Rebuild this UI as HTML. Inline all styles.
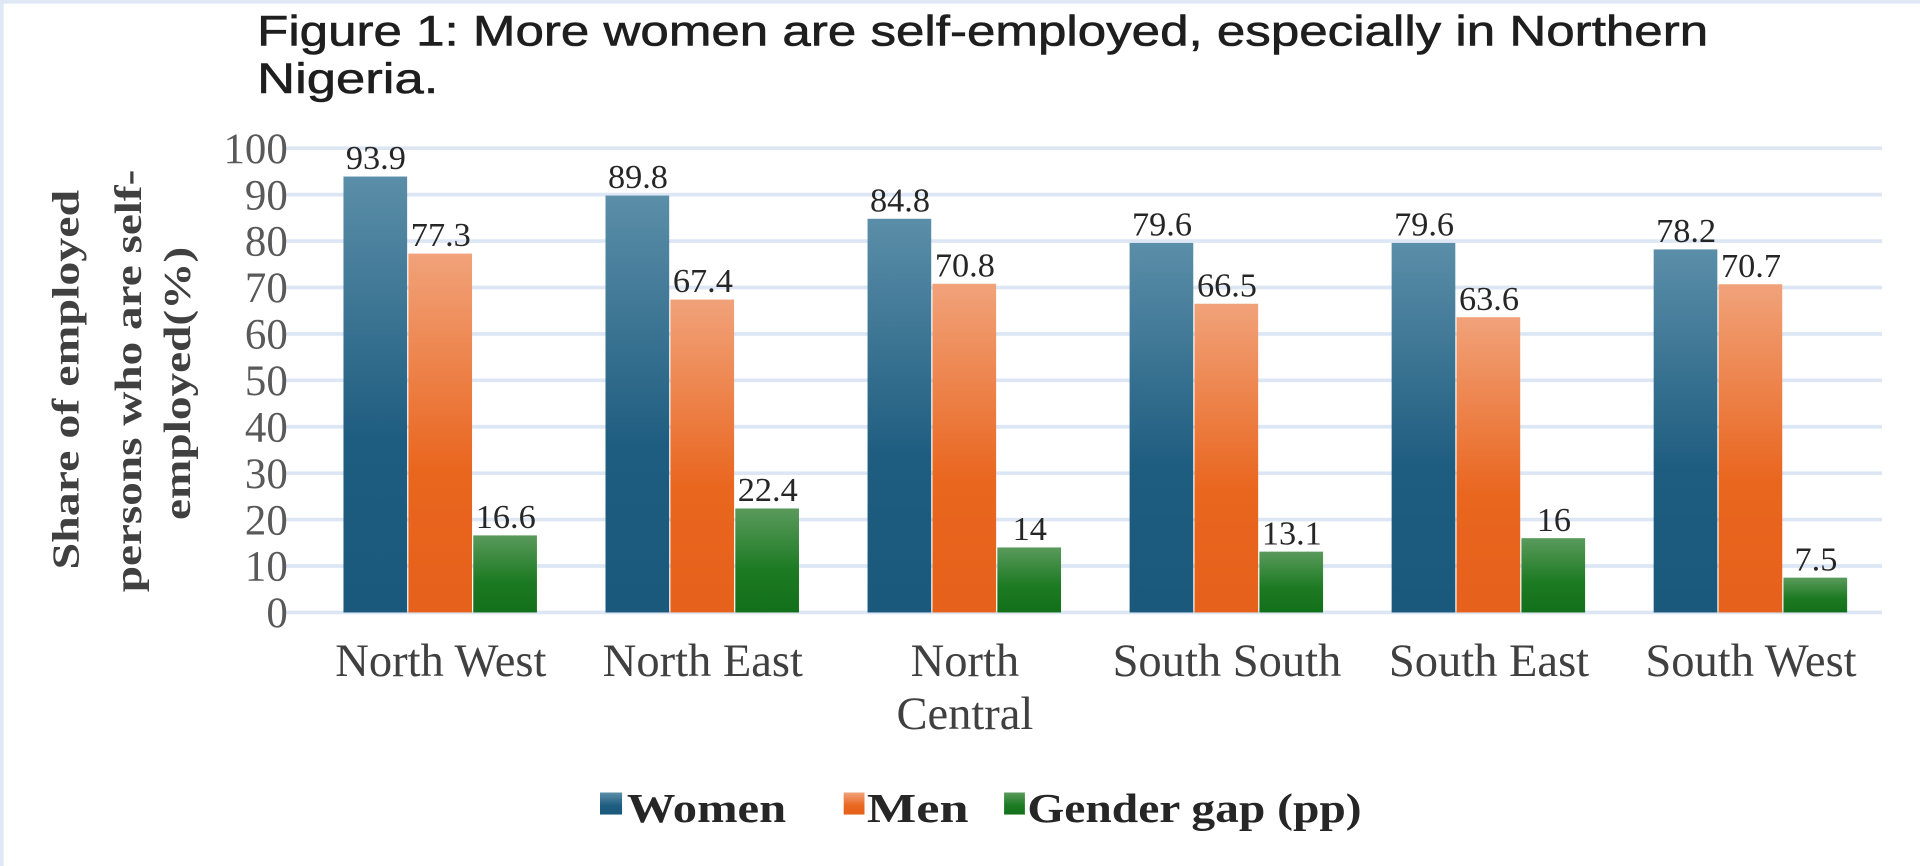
<!DOCTYPE html>
<html><head><meta charset="utf-8"><style>
html,body{margin:0;padding:0;background:#fff;}
svg{display:block;}
</style></head><body>
<svg id="chart" width="1920" height="866" viewBox="0 0 1568 707" preserveAspectRatio="none" xmlns="http://www.w3.org/2000/svg">
<defs>
<linearGradient id="gW" x1="0" y1="0" x2="0" y2="1"><stop offset="0" stop-color="#5b8ea8"/><stop offset="0.6" stop-color="#1f5d80"/><stop offset="1" stop-color="#1a587c"/></linearGradient>
<linearGradient id="gM" x1="0" y1="0" x2="0" y2="1"><stop offset="0" stop-color="#f1a27a"/><stop offset="0.6" stop-color="#e9661f"/><stop offset="1" stop-color="#e6611b"/></linearGradient>
<linearGradient id="gG" x1="0" y1="0" x2="0" y2="1"><stop offset="0" stop-color="#5a9a5c"/><stop offset="0.6" stop-color="#1c7a22"/><stop offset="1" stop-color="#13701a"/></linearGradient>
</defs>
<rect x="0" y="0" width="1568" height="707" fill="#fff"/>
<rect x="0" y="0" width="1568" height="3" fill="#dfe8f5"/>
<rect x="0" y="0" width="3" height="707" fill="#dfe8f5"/>
<text x="210" y="37" font-family="Liberation Sans, sans-serif" font-size="35" fill="#1e1e1e" stroke="#1e1e1e" stroke-width="0.5" textLength="1185" lengthAdjust="spacingAndGlyphs">Figure 1: More women are self-employed, especially in Northern</text>
<text x="210" y="76" font-family="Liberation Sans, sans-serif" font-size="35" fill="#1e1e1e" stroke="#1e1e1e" stroke-width="0.5" textLength="148" lengthAdjust="spacingAndGlyphs">Nigeria.</text>
<g font-family="Liberation Serif, serif" font-weight="bold" font-size="31" fill="#404040" text-anchor="middle">
<text transform="translate(64,310) rotate(-90)" textLength="310" lengthAdjust="spacingAndGlyphs">Share of employed</text>
<text transform="translate(115,311) rotate(-90)" textLength="345" lengthAdjust="spacingAndGlyphs">persons who are self-</text>
<text transform="translate(155,313) rotate(-90)" textLength="223" lengthAdjust="spacingAndGlyphs">employed(%)</text>
</g>
<g id="grid"></g><g id="bars"></g><g id="labels"></g><g id="xlabels"></g>
<g font-family="Liberation Serif, serif" font-weight="bold" font-size="34" fill="#262626">
<g><rect x="490" y="647" width="18" height="18" fill="url(#gW)"/><text x="512" y="671" textLength="130" lengthAdjust="spacingAndGlyphs">Women</text></g>
<g><rect x="689" y="647" width="17" height="18" fill="url(#gM)"/><text x="708" y="671" textLength="83" lengthAdjust="spacingAndGlyphs">Men</text></g>
<g><rect x="820" y="647" width="17" height="18" fill="url(#gG)"/><text x="839" y="671" textLength="273" lengthAdjust="spacingAndGlyphs">Gender gap (pp)</text></g>
</g>
</svg>
<script>
const categories = [["North West"],["North East"],["North","Central"],["South South"],["South East"],["South West"]];
const women = [93.9, 89.8, 84.8, 79.6, 79.6, 78.2];
const men = [77.3, 67.4, 70.8, 66.5, 63.6, 70.7];
const gap = [16.6, 22.4, 14, 13.1, 16, 7.5];
const yTicks = [0,10,20,30,40,50,60,70,80,90,100];

const NS = "http://www.w3.org/2000/svg";
const x0 = 253, x1 = 1537, y0 = 500, y100 = 121;
const band = (x1 - x0) / categories.length;
const barW = 53;
const yS = v => y0 - (y0 - y100) * v / 100;
const xC = i => x0 + band * (i + 0.5);
function mk(tag, attrs, parent, txt) {
  const e = document.createElementNS(NS, tag);
  for (const k in attrs) e.setAttribute(k, attrs[k]);
  if (txt !== undefined) e.textContent = txt;
  parent.appendChild(e); return e;
}
const grid = document.getElementById('grid');
yTicks.forEach(t => {
  const l = mk('line', {x1: 232, x2: x1, y1: yS(t), y2: yS(t), stroke: '#dce6f4', 'stroke-width': 3}, grid);
  
  
  const tx = mk('text', {x: 235, y: yS(t) + 12, 'text-anchor': 'end', 'font-family': 'Liberation Serif, serif', 'font-size': 35, fill: '#595959'}, grid, t);
  
  
});
const series = [[women, 'url(#gW)', 'women'], [men, 'url(#gM)', 'men'], [gap, 'url(#gG)', 'gap']];
const bars = document.getElementById('bars'), labels = document.getElementById('labels');
categories.forEach((c, i) => {
  series.forEach(([vals, fill, nm], s) => {
    const x = xC(i) - 1.5 * barW + s * barW;
    const r = mk('rect', {x: x, y: yS(vals[i]), width: barW - 1, height: y0 - yS(vals[i]), fill: fill}, bars);
    
    
    const t = mk('text', {x: x + barW / 2, y: yS(vals[i]) - 6, 'text-anchor': 'middle', 'font-family': 'Liberation Serif, serif', 'font-size': 28, fill: '#262626'}, labels, vals[i]);
    
    
  });
  c.forEach((line, k) => {
    const t = mk('text', {x: xC(i), y: 552 + k * 43, 'text-anchor': 'middle', 'font-family': 'Liberation Serif, serif', 'font-size': 38, fill: '#404040'}, document.getElementById('xlabels'), line);
    
    
  });
});
</script>
</body></html>
